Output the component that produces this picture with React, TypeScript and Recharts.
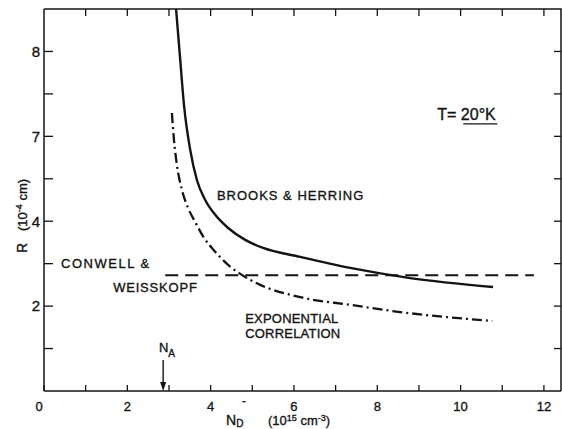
import React from 'react';
import { LineChart, Line, XAxis, YAxis, ReferenceDot, ReferenceLine } from 'recharts';

// axis ticks
const xTicks = [0, 1, 2, 3, 4, 5, 6, 7, 8, 9, 10, 11, 12];
const xTickLabels: Record<number, string> = { 0: '0', 2: '2', 4: '4', 6: '6', 8: '8', 10: '10', 12: '12' };
const yTicks = [1, 2, 3, 4, 5, 6, 7, 8];
const yTickLabels: Record<number, string> = { 2: '2', 4: '4', 6: '7', 8: '8' };
const X_MAX = 12.41;
const Y_MAX = 9;

// Brooks & Herring (solid)
const brooksN = [3.17, 3.27, 3.36, 3.51, 3.67, 3.87, 4.11, 4.42, 4.83, 5.26, 6.15, 7.35, 8.79, 10.78];
const brooksR = [9.0, 7.8, 6.74, 5.68, 4.97, 4.5, 4.15, 3.84, 3.56, 3.37, 3.16, 2.9, 2.66, 2.45];

// Exponential correlation (dash-dot)
const expN = [3.07, 3.12, 3.19, 3.31, 3.46, 3.63, 3.84, 4.11, 4.42, 4.71, 5.19, 6.15, 7.35, 8.55, 10.76];
const expR = [6.55, 5.91, 5.33, 4.74, 4.31, 3.98, 3.61, 3.28, 2.97, 2.76, 2.5, 2.21, 2.03, 1.86, 1.65];

// Conwell & Weisskopf (dashed)
const conwellN = [2.91, 11.76];
const conwellR = [2.73, 2.73];

const toPoints = (xs: number[], ys: number[]) => xs.map((x, i) => ({ x, y: ys[i] }));
const brooks = toPoints(brooksN, brooksR);
const expo = toPoints(expN, expR);
const conwell = toPoints(conwellN, conwellR);

// plot box (chart margins + axis sizes), used for the top / right frame
const PLOT_L = 44;
const PLOT_R = 561;
const PLOT_T = 9;
const PLOT_B = 391;
const px = (v: number) => PLOT_L + (v / X_MAX) * (PLOT_R - PLOT_L);
const py = (v: number) => PLOT_B - (v / Y_MAX) * (PLOT_B - PLOT_T);

const INK = '#141414';
const FONT = '"Liberation Sans", Arial, sans-serif';
const inkText = { fill: INK, fontFamily: FONT, stroke: INK, strokeWidth: 0.35 };

const XTick = (props: any) => {
  const { x, y, payload } = props;
  const label = xTickLabels[payload.value] ?? '';
  return (
    <text x={payload.value === 0 ? x - 5 : x} y={y} dy="0.71em" textAnchor="middle"
      fontSize={13} {...inkText}>
      {label}
    </text>
  );
};

const textAt = (lines: string[], size = 13, spacing = 0.8, lead = 15) => (p: any) => (
  <text x={p.cx} y={p.cy} fontSize={size} letterSpacing={spacing} {...inkText}>
    {lines.map((l, i) => (
      <tspan key={i} x={p.cx} dy={i === 0 ? 0 : lead}>{l}</tspan>
    ))}
  </text>
);

const tempLabel = (p: any) => (
  <g>
    <text x={p.cx} y={p.cy} fontSize={16} {...inkText}>T= 20°K</text>
    <line x1={p.cx + 26} x2={p.cx + 60} y1={p.cy + 4} y2={p.cy + 4} stroke={INK} strokeWidth={1.2} />
  </g>
);

const naLabel = (p: any) => (
  <text x={p.cx} y={p.cy} fontSize={13} {...inkText}>
    N<tspan dy={5} fontSize={10}>A</tspan>
  </text>
);

const arrowHead = (p: any) => (
  <polygon points={`${p.cx - 3},${p.cy - 9} ${p.cx + 3},${p.cy - 9} ${p.cx},${p.cy}`} fill={INK} />
);

const axisLine = { stroke: INK, strokeWidth: 1.5 };
const tickLine = { stroke: INK, strokeWidth: 1.3 };

const App = () => {
  return (
    <div style={{ position: 'absolute', left: 0, top: 0, width: 562, height: 429, background: '#fff' }}>
      <LineChart width={562} height={429} margin={{ top: PLOT_T, right: 562 - PLOT_R, bottom: 0, left: 0 }}
        style={{ fontFamily: FONT }}>
        <XAxis dataKey="x" type="number" domain={[0, X_MAX]} ticks={xTicks} height={429 - PLOT_B}
          axisLine={axisLine} tickLine={tickLine}
          tickSize={-6} tickMargin={17} tick={<XTick />} />
        <YAxis type="number" domain={[0, Y_MAX]} ticks={yTicks} width={PLOT_L}
          axisLine={axisLine} tickLine={tickLine}
          tickSize={-9} tickMargin={13} tickFormatter={(v: number) => yTickLabels[v] ?? ''}
          tick={{ fontSize: 15, ...inkText }} />

        <Line data={brooks} dataKey="y" type="monotone" stroke={INK} strokeWidth={2.4}
          dot={false} isAnimationActive={false} />
        <Line data={expo} dataKey="y" type="monotone" stroke={INK} strokeWidth={2.3}
          strokeDasharray="10 4 2 4" dot={false} isAnimationActive={false} />
        <Line data={conwell} dataKey="y" type="linear" stroke={INK} strokeWidth={2}
          strokeDasharray="13 7" dot={false} isAnimationActive={false} />

        <ReferenceLine segment={[{ x: 2.86, y: 0.73 }, { x: 2.86, y: 0.15 }]} stroke={INK} strokeWidth={1.4} />
        <ReferenceDot x={2.86} y={0} r={0} shape={arrowHead} ifOverflow="visible" />
        <ReferenceDot x={2.76} y={0.92} r={0} shape={naLabel} ifOverflow="visible" />

        <ReferenceDot x={4.15} y={4.5} r={0} shape={textAt(['BROOKS & HERRING'], 13, 1)} ifOverflow="visible" />
        <ReferenceDot x={0.41} y={2.9} r={0} shape={textAt(['CONWELL &'], 13, 1.5)} ifOverflow="visible" />
        <ReferenceDot x={1.66} y={2.33} r={0} shape={textAt(['WEISSKOPF'], 13, 0.8)} ifOverflow="visible" />
        <ReferenceDot x={4.83} y={1.6} r={0} shape={textAt(['EXPONENTIAL', 'CORRELATION'], 13, 0.2, 15)} ifOverflow="visible" />
        <ReferenceDot x={9.44} y={6.39} r={0} shape={tempLabel} ifOverflow="visible" />
      </LineChart>

      <svg width={562} height={429} style={{ position: 'absolute', left: 0, top: 0, pointerEvents: 'none' }}>
        {/* top and right frame with inward ticks */}
        <polyline points={`${PLOT_L},${PLOT_T} ${PLOT_R},${PLOT_T} ${PLOT_R},${PLOT_B}`}
          fill="none" stroke={INK} strokeWidth={1.5} />
        {xTicks.slice(1).map((t) => (
          <line key={`tt${t}`} x1={px(t)} x2={px(t)} y1={PLOT_T} y2={PLOT_T + 7} stroke={INK} strokeWidth={1.3} />
        ))}
        {yTicks.map((t) => (
          <line key={`rt${t}`} x1={PLOT_R} x2={PLOT_R - 7} y1={py(t)} y2={py(t)} stroke={INK} strokeWidth={1.3} />
        ))}

        <text x={226} y={425} fontSize={14} {...inkText}>
          N<tspan dy={2} fontSize={10}>D</tspan>
        </text>
        <text x={242} y={405} fontSize={12} {...inkText}>-</text>
        <text x={268} y={425} fontSize={13} {...inkText}>
          (10<tspan dy={-4} fontSize={9}>15</tspan>
          <tspan dy={4}> cm</tspan>
          <tspan dy={-4} fontSize={9}>-3</tspan>
          <tspan dy={4}>)</tspan>
        </text>
        <g transform="rotate(-90)">
          <text x={-253} y={27} fontSize={14} {...inkText}>R</text>
          <text x={-231} y={27} fontSize={13} {...inkText}>
            (10<tspan dy={-5} fontSize={9}>-4</tspan>
            <tspan dy={5}> cm)</tspan>
          </text>
        </g>
      </svg>
    </div>
  );
};

export default App;
